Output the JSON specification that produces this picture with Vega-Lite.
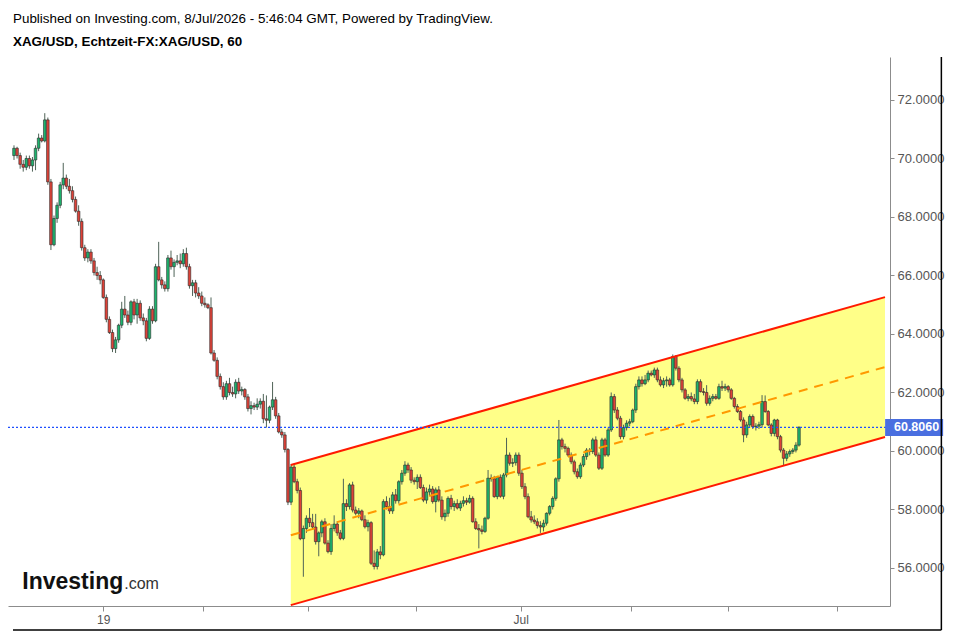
{
"$schema": "https://vega.github.io/schema/vega-lite/v6.json",
"width": 882, "height": 549,
"autosize": "none",
"padding": {"left": 8, "top": 57, "right": 65, "bottom": 27},
"background": "white",
"config": {"view": {"stroke": null}, "font": "Liberation Sans"},
"title": {"text": "Published on Investing.com, 8/Jul/2026 - 5:46:04  GMT, Powered by TradingView.", "subtitle": "XAG/USD, Echtzeit-FX:XAG/USD, 60", "anchor": "start", "frame": "group", "dx": 5, "fontSize": 13.4, "fontWeight": "normal", "color": "#000", "subtitleFontSize": 13.4, "subtitleFontWeight": "bold", "subtitleColor": "#000", "subtitlePadding": 9, "offset": 8, "font": "Liberation Sans", "subtitleFont": "Liberation Sans"},
"datasets": {
"candles": [
{"i":0,"o":70.1,"h":70.45,"l":69.95,"c":70.35},{"i":1,"o":70.35,"h":70.4,"l":70.0,"c":70.1},{"i":2,"o":70.1,"h":70.2,"l":69.65,"c":69.8},{"i":3,"o":69.8,"h":69.95,"l":69.55,"c":69.7},{"i":4,"o":69.7,"h":70.1,"l":69.6,"c":70.0},{"i":5,"o":70.0,"h":70.1,"l":69.65,"c":69.75},{"i":6,"o":69.75,"h":70.05,"l":69.55,"c":69.95},{"i":7,"o":69.95,"h":70.45,"l":69.6,"c":70.35},{"i":8,"o":70.35,"h":70.85,"l":70.25,"c":70.7},{"i":9,"o":70.7,"h":70.8,"l":70.55,"c":70.6},
{"i":10,"o":70.6,"h":71.55,"l":70.55,"c":71.32},{"i":11,"o":71.32,"h":71.4,"l":69.1,"c":69.2},{"i":12,"o":69.2,"h":69.3,"l":66.87,"c":67.05},{"i":13,"o":67.05,"h":68.05,"l":67.0,"c":67.95},{"i":14,"o":67.95,"h":68.5,"l":67.8,"c":68.4},{"i":15,"o":68.4,"h":69.2,"l":68.3,"c":69.1},{"i":16,"o":69.1,"h":69.85,"l":68.95,"c":69.33},{"i":17,"o":69.33,"h":69.45,"l":68.95,"c":69.05},{"i":18,"o":69.05,"h":69.3,"l":68.8,"c":68.9},{"i":19,"o":68.9,"h":69.05,"l":68.5,"c":68.6},
{"i":20,"o":68.6,"h":68.7,"l":68.15,"c":68.2},{"i":21,"o":68.2,"h":68.4,"l":67.7,"c":67.85},{"i":22,"o":67.85,"h":67.95,"l":66.85,"c":66.95},{"i":23,"o":66.95,"h":67.05,"l":66.5,"c":66.6},{"i":24,"o":66.6,"h":66.9,"l":66.45,"c":66.8},{"i":25,"o":66.8,"h":66.9,"l":66.4,"c":66.5},{"i":26,"o":66.5,"h":66.6,"l":66.0,"c":66.1},{"i":27,"o":66.1,"h":66.3,"l":65.85,"c":66.0},{"i":28,"o":66.0,"h":66.15,"l":65.7,"c":65.85},{"i":29,"o":65.85,"h":65.9,"l":65.2,"c":65.25},
{"i":30,"o":65.25,"h":65.35,"l":64.4,"c":64.5},{"i":31,"o":64.5,"h":64.6,"l":64.0,"c":64.05},{"i":32,"o":64.05,"h":64.15,"l":63.38,"c":63.5},{"i":33,"o":63.5,"h":63.9,"l":63.35,"c":63.8},{"i":34,"o":63.8,"h":64.35,"l":63.7,"c":64.3},{"i":35,"o":64.3,"h":65.1,"l":64.2,"c":64.85},{"i":36,"o":64.85,"h":65.3,"l":64.55,"c":64.65},{"i":37,"o":64.65,"h":64.8,"l":64.3,"c":64.4},{"i":38,"o":64.4,"h":65.15,"l":64.3,"c":65.1},{"i":39,"o":65.1,"h":65.2,"l":64.5,"c":64.65},
{"i":40,"o":64.65,"h":65.2,"l":64.35,"c":65.05},{"i":41,"o":65.05,"h":65.15,"l":64.45,"c":64.55},{"i":42,"o":64.55,"h":64.7,"l":64.3,"c":64.45},{"i":43,"o":64.45,"h":64.55,"l":63.75,"c":63.85},{"i":44,"o":63.85,"h":64.95,"l":63.8,"c":64.85},{"i":45,"o":64.85,"h":64.95,"l":64.35,"c":64.45},{"i":46,"o":64.45,"h":66.4,"l":64.4,"c":66.3},{"i":47,"o":66.3,"h":67.15,"l":65.8,"c":65.85},{"i":48,"o":65.85,"h":65.95,"l":65.55,"c":65.68},{"i":49,"o":65.68,"h":65.8,"l":65.45,"c":65.55},
{"i":50,"o":65.55,"h":66.7,"l":65.45,"c":66.6},{"i":51,"o":66.6,"h":66.85,"l":66.2,"c":66.3},{"i":52,"o":66.3,"h":66.55,"l":65.95,"c":66.45},{"i":53,"o":66.45,"h":66.7,"l":66.35,"c":66.5},{"i":54,"o":66.5,"h":66.75,"l":66.25,"c":66.4},{"i":55,"o":66.4,"h":66.9,"l":66.3,"c":66.75},{"i":56,"o":66.75,"h":66.95,"l":66.2,"c":66.3},{"i":57,"o":66.3,"h":66.4,"l":65.55,"c":65.65},{"i":58,"o":65.65,"h":65.85,"l":65.3,"c":65.75},{"i":59,"o":65.75,"h":65.85,"l":65.25,"c":65.4},
{"i":60,"o":65.4,"h":65.6,"l":65.2,"c":65.3},{"i":61,"o":65.3,"h":65.45,"l":64.95,"c":65.05},{"i":62,"o":65.05,"h":65.25,"l":64.9,"c":65.0},{"i":63,"o":65.0,"h":65.05,"l":64.85,"c":64.9},{"i":64,"o":64.9,"h":65.25,"l":63.3,"c":63.35},{"i":65,"o":63.35,"h":63.45,"l":63.05,"c":63.1},{"i":66,"o":63.1,"h":63.2,"l":62.45,"c":62.55},{"i":67,"o":62.55,"h":62.65,"l":62.1,"c":62.2},{"i":68,"o":62.2,"h":62.35,"l":61.75,"c":61.85},{"i":69,"o":61.85,"h":62.4,"l":61.75,"c":62.3},
{"i":70,"o":62.3,"h":62.5,"l":61.9,"c":62.0},{"i":71,"o":62.0,"h":62.2,"l":61.85,"c":61.95},{"i":72,"o":61.95,"h":62.45,"l":61.8,"c":62.35},{"i":73,"o":62.35,"h":62.5,"l":61.95,"c":62.05},{"i":74,"o":62.05,"h":62.2,"l":61.9,"c":62.1},{"i":75,"o":62.1,"h":62.15,"l":61.75,"c":61.85},{"i":76,"o":61.85,"h":61.95,"l":61.35,"c":61.45},{"i":77,"o":61.45,"h":61.7,"l":61.25,"c":61.55},{"i":78,"o":61.55,"h":61.65,"l":61.4,"c":61.5},{"i":79,"o":61.5,"h":61.8,"l":61.4,"c":61.6},
{"i":80,"o":61.6,"h":61.8,"l":61.45,"c":61.7},{"i":81,"o":61.7,"h":61.95,"l":60.95,"c":61.1},{"i":82,"o":61.1,"h":61.9,"l":60.8,"c":61.05},{"i":83,"o":61.05,"h":61.55,"l":60.95,"c":61.5},{"i":84,"o":61.5,"h":62.36,"l":61.4,"c":61.75},{"i":85,"o":61.75,"h":61.85,"l":61.1,"c":61.2},{"i":86,"o":61.2,"h":61.3,"l":60.6,"c":60.65},{"i":87,"o":60.65,"h":60.75,"l":60.45,"c":60.55},{"i":88,"o":60.55,"h":60.65,"l":59.95,"c":60.05},{"i":89,"o":60.05,"h":60.1,"l":58.15,"c":58.25},
{"i":90,"o":58.25,"h":59.55,"l":58.15,"c":59.45},{"i":91,"o":59.45,"h":59.55,"l":58.9,"c":58.95},{"i":92,"o":58.95,"h":59.05,"l":58.55,"c":58.65},{"i":93,"o":58.65,"h":58.75,"l":56.95,"c":57.0},{"i":94,"o":57.0,"h":57.45,"l":55.7,"c":57.35},{"i":95,"o":57.35,"h":57.8,"l":57.2,"c":57.7},{"i":96,"o":57.7,"h":58.05,"l":57.4,"c":57.55},{"i":97,"o":57.55,"h":57.85,"l":57.3,"c":57.4},{"i":98,"o":57.4,"h":57.85,"l":56.8,"c":56.9},{"i":99,"o":56.9,"h":57.25,"l":56.4,"c":57.2},
{"i":100,"o":57.2,"h":57.65,"l":57.05,"c":57.58},{"i":101,"o":57.58,"h":57.7,"l":56.8,"c":56.85},{"i":102,"o":56.85,"h":56.95,"l":56.5,"c":56.56},{"i":103,"o":56.56,"h":57.5,"l":56.45,"c":57.35},{"i":104,"o":57.35,"h":57.8,"l":57.25,"c":57.5},{"i":105,"o":57.5,"h":57.6,"l":57.1,"c":57.2},{"i":106,"o":57.2,"h":57.3,"l":56.95,"c":57.01},{"i":107,"o":57.01,"h":59.05,"l":56.95,"c":58.2},{"i":108,"o":58.2,"h":58.35,"l":57.95,"c":58.1},{"i":109,"o":58.1,"h":58.9,"l":58.0,"c":58.84},
{"i":110,"o":58.84,"h":58.95,"l":57.9,"c":57.98},{"i":111,"o":57.98,"h":58.1,"l":57.8,"c":57.87},{"i":112,"o":57.87,"h":58.05,"l":57.7,"c":57.95},{"i":113,"o":57.95,"h":58.0,"l":57.6,"c":57.65},{"i":114,"o":57.65,"h":57.8,"l":57.35,"c":57.41},{"i":115,"o":57.41,"h":57.65,"l":57.25,"c":57.55},{"i":116,"o":57.55,"h":57.6,"l":56.1,"c":56.16},{"i":117,"o":56.16,"h":56.6,"l":55.95,"c":56.05},{"i":118,"o":56.05,"h":56.65,"l":55.95,"c":56.55},{"i":119,"o":56.55,"h":56.75,"l":56.3,"c":56.45},
{"i":120,"o":56.45,"h":58.35,"l":56.4,"c":58.27},{"i":121,"o":58.27,"h":58.45,"l":58.0,"c":58.1},{"i":122,"o":58.1,"h":58.4,"l":57.85,"c":57.95},{"i":123,"o":57.95,"h":58.6,"l":57.85,"c":58.5},{"i":124,"o":58.5,"h":58.7,"l":58.2,"c":58.3},{"i":125,"o":58.3,"h":59.0,"l":58.2,"c":58.95},{"i":126,"o":58.95,"h":59.35,"l":58.85,"c":59.24},{"i":127,"o":59.24,"h":59.65,"l":59.15,"c":59.52},{"i":128,"o":59.52,"h":59.6,"l":59.25,"c":59.35},{"i":129,"o":59.35,"h":59.45,"l":58.9,"c":59.0},
{"i":130,"o":59.0,"h":59.1,"l":58.85,"c":58.95},{"i":131,"o":58.95,"h":59.2,"l":58.7,"c":59.1},{"i":132,"o":59.1,"h":59.2,"l":58.7,"c":58.75},{"i":133,"o":58.75,"h":58.85,"l":58.25,"c":58.32},{"i":134,"o":58.32,"h":58.75,"l":58.2,"c":58.6},{"i":135,"o":58.6,"h":58.85,"l":58.45,"c":58.7},{"i":136,"o":58.7,"h":58.8,"l":58.2,"c":58.27},{"i":137,"o":58.27,"h":58.75,"l":57.9,"c":58.67},{"i":138,"o":58.67,"h":58.8,"l":58.25,"c":58.32},{"i":139,"o":58.32,"h":58.45,"l":57.65,"c":57.75},
{"i":140,"o":57.75,"h":58.0,"l":57.6,"c":57.87},{"i":141,"o":57.87,"h":58.45,"l":57.75,"c":58.38},{"i":142,"o":58.38,"h":58.5,"l":58.0,"c":58.1},{"i":143,"o":58.1,"h":58.3,"l":57.95,"c":58.2},{"i":144,"o":58.2,"h":58.35,"l":58.0,"c":58.05},{"i":145,"o":58.05,"h":58.3,"l":57.95,"c":58.21},{"i":146,"o":58.21,"h":58.45,"l":58.1,"c":58.3},{"i":147,"o":58.3,"h":58.4,"l":58.15,"c":58.25},{"i":148,"o":58.25,"h":58.5,"l":58.2,"c":58.38},{"i":149,"o":58.38,"h":58.45,"l":57.55,"c":57.58},
{"i":150,"o":57.58,"h":57.7,"l":57.3,"c":57.35},{"i":151,"o":57.35,"h":57.5,"l":56.67,"c":57.3},{"i":152,"o":57.3,"h":57.45,"l":57.15,"c":57.25},{"i":153,"o":57.25,"h":57.75,"l":57.2,"c":57.7},{"i":154,"o":57.7,"h":59.35,"l":57.65,"c":59.07},{"i":155,"o":59.07,"h":59.2,"l":58.95,"c":59.05},{"i":156,"o":59.05,"h":59.15,"l":58.4,"c":58.44},{"i":157,"o":58.44,"h":59.15,"l":58.35,"c":59.1},{"i":158,"o":59.1,"h":59.2,"l":58.4,"c":58.45},{"i":159,"o":58.45,"h":59.25,"l":58.35,"c":59.18},
{"i":160,"o":59.18,"h":60.45,"l":59.1,"c":59.86},{"i":161,"o":59.86,"h":59.95,"l":59.5,"c":59.58},{"i":162,"o":59.58,"h":59.75,"l":59.45,"c":59.6},{"i":163,"o":59.6,"h":59.95,"l":59.5,"c":59.86},{"i":164,"o":59.86,"h":59.95,"l":59.15,"c":59.24},{"i":165,"o":59.24,"h":59.35,"l":58.7,"c":58.78},{"i":166,"o":58.78,"h":58.9,"l":58.35,"c":58.44},{"i":167,"o":58.44,"h":58.55,"l":57.7,"c":57.75},{"i":168,"o":57.75,"h":57.95,"l":57.55,"c":57.64},{"i":169,"o":57.64,"h":57.8,"l":57.5,"c":57.58},
{"i":170,"o":57.58,"h":57.7,"l":57.35,"c":57.45},{"i":171,"o":57.45,"h":57.6,"l":57.2,"c":57.4},{"i":172,"o":57.4,"h":57.65,"l":57.25,"c":57.53},{"i":173,"o":57.53,"h":57.9,"l":57.45,"c":57.87},{"i":174,"o":57.87,"h":58.15,"l":57.8,"c":58.1},{"i":175,"o":58.1,"h":58.45,"l":58.0,"c":58.38},{"i":176,"o":58.38,"h":59.1,"l":58.3,"c":59.05},{"i":177,"o":59.05,"h":61.06,"l":58.95,"c":60.38},{"i":178,"o":60.38,"h":60.45,"l":60.05,"c":60.15},{"i":179,"o":60.15,"h":60.25,"l":59.95,"c":60.09},
{"i":180,"o":60.09,"h":60.15,"l":59.8,"c":59.86},{"i":181,"o":59.86,"h":59.95,"l":59.55,"c":59.63},{"i":182,"o":59.63,"h":59.7,"l":59.2,"c":59.29},{"i":183,"o":59.29,"h":59.4,"l":59.05,"c":59.12},{"i":184,"o":59.12,"h":59.6,"l":59.05,"c":59.52},{"i":185,"o":59.52,"h":59.9,"l":59.45,"c":59.81},{"i":186,"o":59.81,"h":60.1,"l":59.7,"c":60.03},{"i":187,"o":60.03,"h":60.1,"l":59.85,"c":59.98},{"i":188,"o":59.98,"h":60.45,"l":59.9,"c":60.38},{"i":189,"o":60.38,"h":60.5,"l":59.8,"c":59.86},
{"i":190,"o":59.86,"h":59.95,"l":59.35,"c":59.41},{"i":191,"o":59.41,"h":60.45,"l":59.35,"c":60.38},{"i":192,"o":60.38,"h":60.45,"l":59.8,"c":59.86},{"i":193,"o":59.86,"h":60.8,"l":59.8,"c":60.72},{"i":194,"o":60.72,"h":62.0,"l":60.65,"c":61.86},{"i":195,"o":61.86,"h":61.95,"l":61.3,"c":61.4},{"i":196,"o":61.4,"h":61.5,"l":61.05,"c":61.12},{"i":197,"o":61.12,"h":61.2,"l":60.4,"c":60.49},{"i":198,"o":60.49,"h":60.9,"l":60.4,"c":60.8},{"i":199,"o":60.8,"h":61.05,"l":60.7,"c":60.95},
{"i":200,"o":60.95,"h":61.1,"l":60.85,"c":61.0},{"i":201,"o":61.0,"h":61.45,"l":60.95,"c":61.4},{"i":202,"o":61.4,"h":62.3,"l":61.3,"c":62.2},{"i":203,"o":62.2,"h":62.55,"l":62.1,"c":62.43},{"i":204,"o":62.43,"h":62.55,"l":62.2,"c":62.3},{"i":205,"o":62.3,"h":62.6,"l":62.25,"c":62.43},{"i":206,"o":62.43,"h":62.75,"l":62.35,"c":62.66},{"i":207,"o":62.66,"h":62.75,"l":62.55,"c":62.6},{"i":208,"o":62.6,"h":62.85,"l":62.5,"c":62.77},{"i":209,"o":62.77,"h":62.85,"l":62.35,"c":62.43},
{"i":210,"o":62.43,"h":62.55,"l":62.2,"c":62.26},{"i":211,"o":62.26,"h":62.5,"l":62.15,"c":62.4},{"i":212,"o":62.4,"h":62.55,"l":62.2,"c":62.43},{"i":213,"o":62.43,"h":62.5,"l":62.2,"c":62.26},{"i":214,"o":62.26,"h":63.3,"l":62.2,"c":63.23},{"i":215,"o":63.23,"h":63.28,"l":62.75,"c":62.83},{"i":216,"o":62.83,"h":62.9,"l":62.35,"c":62.43},{"i":217,"o":62.43,"h":62.5,"l":62.0,"c":62.09},{"i":218,"o":62.09,"h":62.15,"l":61.75,"c":61.8},{"i":219,"o":61.8,"h":61.95,"l":61.7,"c":61.86},
{"i":220,"o":61.86,"h":62.0,"l":61.7,"c":61.78},{"i":221,"o":61.78,"h":61.95,"l":61.6,"c":61.69},{"i":222,"o":61.69,"h":62.45,"l":61.6,"c":62.37},{"i":223,"o":62.37,"h":62.45,"l":62.0,"c":62.03},{"i":224,"o":62.03,"h":62.15,"l":61.9,"c":62.0},{"i":225,"o":62.0,"h":62.25,"l":61.55,"c":61.63},{"i":226,"o":61.63,"h":61.9,"l":61.55,"c":61.8},{"i":227,"o":61.8,"h":61.95,"l":61.7,"c":61.86},{"i":228,"o":61.86,"h":61.95,"l":61.75,"c":61.8},{"i":229,"o":61.8,"h":62.3,"l":61.75,"c":62.2},
{"i":230,"o":62.2,"h":62.4,"l":62.05,"c":62.15},{"i":231,"o":62.15,"h":62.3,"l":62.05,"c":62.2},{"i":232,"o":62.2,"h":62.25,"l":62.0,"c":62.09},{"i":233,"o":62.09,"h":62.15,"l":61.75,"c":61.8},{"i":234,"o":61.8,"h":61.85,"l":61.45,"c":61.52},{"i":235,"o":61.52,"h":61.6,"l":61.3,"c":61.35},{"i":236,"o":61.35,"h":61.4,"l":61.0,"c":61.06},{"i":237,"o":61.06,"h":61.15,"l":60.3,"c":60.55},{"i":238,"o":60.55,"h":61.0,"l":60.45,"c":60.89},{"i":239,"o":60.89,"h":61.25,"l":60.8,"c":61.18},
{"i":240,"o":61.18,"h":61.25,"l":60.75,"c":60.83},{"i":241,"o":60.83,"h":60.95,"l":60.7,"c":60.85},{"i":242,"o":60.85,"h":61.0,"l":60.75,"c":60.9},{"i":243,"o":60.9,"h":61.91,"l":60.8,"c":61.69},{"i":244,"o":61.69,"h":61.9,"l":61.3,"c":61.35},{"i":245,"o":61.35,"h":61.4,"l":60.85,"c":60.89},{"i":246,"o":60.89,"h":60.95,"l":60.5,"c":60.6},{"i":247,"o":60.6,"h":61.1,"l":60.5,"c":61.06},{"i":248,"o":61.06,"h":61.1,"l":60.4,"c":60.49},{"i":249,"o":60.49,"h":60.55,"l":59.95,"c":60.03},
{"i":250,"o":60.03,"h":60.1,"l":59.5,"c":59.75},{"i":251,"o":59.75,"h":60.0,"l":59.65,"c":59.9},{"i":252,"o":59.9,"h":60.05,"l":59.8,"c":59.98},{"i":253,"o":59.98,"h":60.1,"l":59.9,"c":60.03},{"i":254,"o":60.03,"h":60.3,"l":59.95,"c":60.2},{"i":255,"o":60.2,"h":60.85,"l":60.15,"c":60.806}
],
"channel": [{"t":89.92,"up":59.52,"mid":57.12,"lo":54.73},{"t":282.94,"up":65.26,"mid":62.87,"lo":60.48}],
"last": [{"price":60.806}],
"logo": [{"word":"Investing","dom":".com"}]
},
"layer": [
{"data": {"name": "channel"}, "mark": {"type": "area", "color": "#ffff88", "opacity": 1},
 "encoding": {
  "x": {"field": "t", "type": "quantitative", "scale": {"domain": [-0.32, 282.94], "nice": false, "zero": false},
        "axis": {"orient": "bottom", "title": null, "grid": false, "values": [29, 61.3, 95.6, 130.7, 164.6, 200.3, 232, 267.2],
                 "labelExpr": "datum.value < 30 ? '19' : (abs(datum.value - 164.6) < 0.1 ? 'Jul' : '')",
                 "domainColor": "#8c8c8c", "tickColor": "#8c8c8c", "tickSize": 5, "labelColor": "#555", "labelFontSize": 12, "labelPadding": 3, "labelFont": "Liberation Sans"}},
  "y": {"field": "up", "type": "quantitative", "scale": {"domain": [54.70, 73.47], "nice": false, "zero": false},
        "axis": {"orient": "right", "title": null, "grid": false, "values": [56, 58, 60, 62, 64, 66, 68, 70, 72], "format": ".4f",
                 "domainColor": "#8c8c8c", "tickColor": "#8c8c8c", "tickSize": 4, "labelColor": "#555", "labelFontSize": 13, "labelPadding": 3, "labelFont": "Liberation Sans"}},
  "y2": {"field": "lo"}
 }},
{"data": {"name": "candles"}, "mark": {"type": "rule", "color": "#4f6357", "strokeWidth": 1},
 "encoding": {"x": {"field": "i", "type": "quantitative", "title": null}, "y": {"field": "l", "type": "quantitative", "title": null}, "y2": {"field": "h"}}},
{"data": {"name": "candles"}, "mark": {"type": "bar", "width": 2.6, "stroke": "#2a2a2a", "strokeWidth": 0.6},
 "encoding": {"x": {"field": "i", "type": "quantitative", "title": null}, "y": {"field": "o", "type": "quantitative", "title": null}, "y2": {"field": "c"},
  "fill": {"condition": {"test": "datum.c >= datum.o", "value": "#1db46e"}, "value": "#dd4238"}}},
{"data": {"name": "channel"}, "mark": {"type": "line", "color": "#ff1a00", "strokeWidth": 2},
 "encoding": {"x": {"field": "t", "type": "quantitative", "title": null}, "y": {"field": "up", "type": "quantitative", "title": null}}},
{"data": {"name": "channel"}, "mark": {"type": "line", "color": "#ff1a00", "strokeWidth": 2},
 "encoding": {"x": {"field": "t", "type": "quantitative", "title": null}, "y": {"field": "lo", "type": "quantitative", "title": null}}},
{"data": {"name": "channel"}, "mark": {"type": "line", "color": "#ff9900", "strokeWidth": 2, "strokeDash": [9, 7]},
 "encoding": {"x": {"field": "t", "type": "quantitative", "title": null}, "y": {"field": "mid", "type": "quantitative", "title": null}}},
{"data": {"name": "last"}, "mark": {"type": "rule", "stroke": "#1f4fff", "strokeWidth": 1.2, "strokeDash": [2, 2], "opacity": 1},
 "encoding": {"y": {"field": "price", "type": "quantitative", "title": null}}},
{"data": {"name": "last"}, "mark": {"type": "tick", "orient": "horizontal", "size": 58, "thickness": 17, "color": "#4a6fe0", "opacity": 1},
 "encoding": {"x": {"datum": 292.4}, "y": {"field": "price", "type": "quantitative", "title": null}}},
{"data": {"name": "last"}, "mark": {"type": "text", "color": "white", "fontWeight": "bold", "fontSize": 12.5, "align": "center", "baseline": "middle", "font": "Liberation Sans"},
 "encoding": {"x": {"datum": 293.2}, "y": {"field": "price", "type": "quantitative", "title": null}, "text": {"field": "price", "format": ".4f"}}},
{"data": {"name": "logo"}, "mark": {"type": "text", "color": "#111", "fontWeight": "bold", "fontSize": 23, "align": "left", "baseline": "alphabetic", "font": "Liberation Sans"},
 "encoding": {"x": {"datum": 2.7}, "y": {"datum": 55.28}, "text": {"field": "word"}}},
{"data": {"name": "logo"}, "mark": {"type": "text", "color": "#333", "fontSize": 16, "align": "left", "baseline": "alphabetic", "font": "Liberation Sans"},
 "encoding": {"x": {"datum": 35.8}, "y": {"datum": 55.28}, "text": {"field": "dom"}}},
{"data": {"name": "last"}, "mark": {"type": "rule", "color": "#000", "strokeWidth": 1.5},
 "encoding": {"x": {"datum": 301.25}, "y": {"datum": 73.47}, "y2": {"datum": 53.88}}},
{"data": {"name": "last"}, "mark": {"type": "rule", "color": "#000", "strokeWidth": 1.5},
 "encoding": {"x": {"datum": -0.32}, "x2": {"datum": 301.25}, "y": {"datum": 53.88}}}
]
}
